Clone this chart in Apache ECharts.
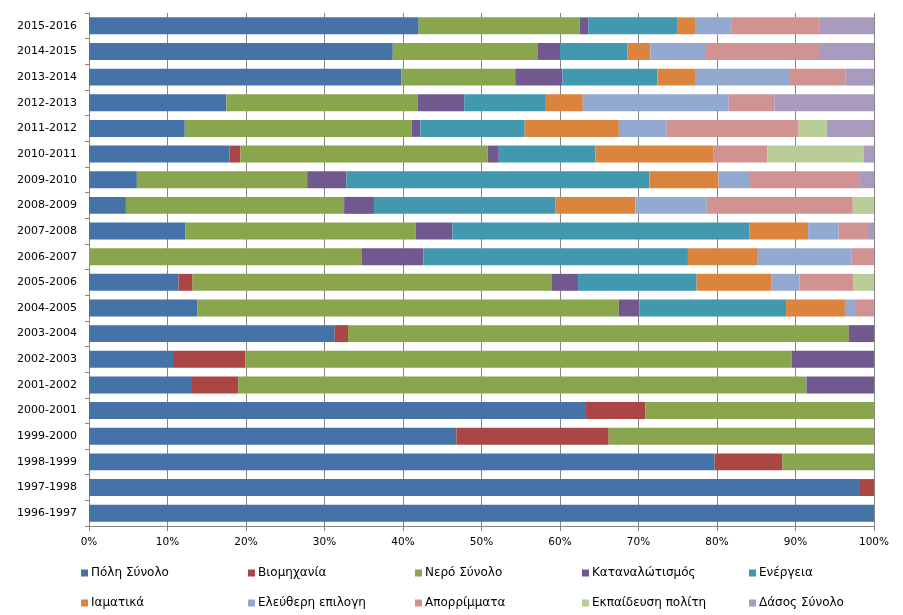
<!DOCTYPE html>
<html>
<head>
<meta charset="utf-8">
<script src="https://cdn.jsdelivr.net/npm/echarts@6/dist/echarts.min.js"></script>
<style>html,body{margin:0;padding:0;background:#fff;}#c{width:903px;height:615px;}</style>
</head>
<body>
<div id="c"></div>
<script>
const categories = ['1996-1997','1997-1998','1998-1999','1999-2000','2000-2001','2001-2002','2002-2003','2003-2004','2004-2005','2005-2006','2006-2007','2007-2008','2008-2009','2009-2010','2010-2011','2011-2012','2012-2013','2013-2014','2014-2015','2015-2016'];
const seriesNames = ['Πόλη Σύνολο','Βιομηχανία','Νερό Σύνολο','Καταναλώτισμός','Ενέργεια','Ιαματικά','Ελεύθερη επιλογη','Απορρίμματα','Εκπαίδευση πολίτη','Δάσος Σύνολο'];
const poli       = [100, 98.1, 79.7, 46.8, 63.2, 13.0, 10.7, 31.3, 13.8, 11.4, 0, 12.3, 4.7, 6.1, 17.9, 12.2, 17.5, 39.8, 38.7, 42.0];
const viomixania = [0, 1.9, 8.6, 19.4, 7.7, 6.0, 9.2, 1.7, 0, 1.8, 0, 0, 0, 0, 1.4, 0, 0, 0, 0, 0];
const nero       = [0, 0, 11.7, 33.8, 29.1, 72.4, 69.6, 63.8, 53.7, 45.7, 34.7, 29.3, 27.8, 21.7, 31.5, 28.9, 24.4, 14.5, 18.5, 20.5];
const katanal    = [0, 0, 0, 0, 0, 8.6, 10.5, 3.2, 2.6, 3.4, 7.9, 4.7, 3.8, 5.0, 1.4, 1.1, 5.9, 6.0, 2.8, 1.1];
const energeia   = [0, 0, 0, 0, 0, 0, 0, 0, 18.7, 15.1, 33.7, 37.8, 23.1, 38.6, 12.3, 13.3, 10.4, 12.1, 8.6, 11.3];
const iamatika   = [0, 0, 0, 0, 0, 0, 0, 0, 7.5, 9.5, 8.9, 7.5, 10.2, 8.8, 15.0, 12.0, 4.7, 4.8, 2.9, 2.4];
const eleftheri  = [0, 0, 0, 0, 0, 0, 0, 0, 1.4, 3.6, 11.9, 3.9, 9.1, 4.0, 0, 6.1, 18.6, 12.1, 7.1, 4.5];
const aporrimmata= [0, 0, 0, 0, 0, 0, 0, 0, 2.3, 6.9, 2.9, 3.6, 18.6, 13.9, 6.9, 16.8, 5.8, 7.1, 14.4, 11.3];
const ekpaideusi = [0, 0, 0, 0, 0, 0, 0, 0, 0, 2.6, 0, 0, 2.7, 0, 12.3, 3.6, 0, 0, 0, 0];
const dasos      = [0, 0, 0, 0, 0, 0, 0, 0, 0, 0, 0, 0.9, 0, 1.9, 1.3, 6.0, 12.7, 3.6, 7.0, 6.9];
const xTicks = [0,10,20,30,40,50,60,70,80,90,100];

const seriesData = [poli, viomixania, nero, katanal, energeia, iamatika, eleftheri, aporrimmata, ekpaideusi, dasos];
const colors = ['#4572A7','#AA4643','#89A54E','#71588F','#4198AF','#DB843D','#93A9CF','#D19392','#B9CD96','#A99BBD'];
const font = 'DejaVu Sans';

const legends = seriesNames.map((n, i) => ({
  data: [n],
  left: 81 + (i % 5) * 167,
  top: i < 5 ? 567 : 597,
  itemWidth: 7, itemHeight: 7, itemGap: 0,
  icon: 'rect',
  padding: 0,
  textStyle: { fontFamily: font, fontSize: 12, color: '#000', padding: [0, 0, 0, -2] },
  selectedMode: false
}));

const chart = echarts.init(document.getElementById('c'), null, { renderer: 'canvas' });
chart.setOption({
  animation: false,
  backgroundColor: '#fff',
  color: colors,
  legend: legends,
  grid: { left: 89, right: 29, top: 13, bottom: 89, containLabel: false },
  xAxis: {
    type: 'value', min: 0, max: 100, interval: 10,
    axisLine: { show: true, lineStyle: { color: '#868686' } },
    axisTick: { show: true, length: 5, lineStyle: { color: '#868686' } },
    splitLine: { show: true, lineStyle: { color: '#868686', width: 1 } },
    axisLabel: { formatter: v => xTicks.includes(v) ? v + '%' : '', fontFamily: font, fontSize: 10.5, color: '#000', margin: 11 }
  },
  yAxis: {
    type: 'category', data: categories,
    axisLine: { show: true, lineStyle: { color: '#868686' } },
    axisTick: { show: true, length: 4, lineStyle: { color: '#868686' } },
    axisLabel: { fontFamily: font, fontSize: 11, color: '#000', margin: 12 },
    splitLine: { show: false }
  },
  series: seriesNames.map((n, i) => ({
    name: n, type: 'bar', stack: 'total',
    data: seriesData[i],
    barCategoryGap: '34%',
    itemStyle: { color: colors[i] }
  }))
});
</script>
</body>
</html>
